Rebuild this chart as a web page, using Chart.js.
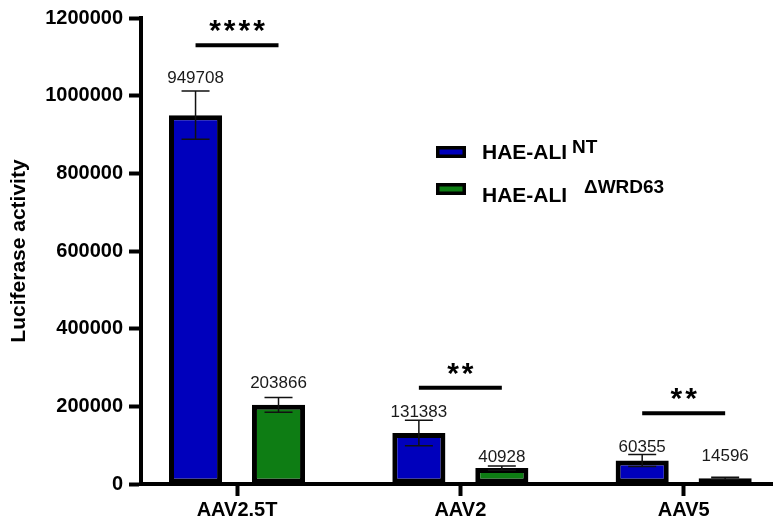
<!DOCTYPE html>
<html>
<head>
<meta charset="utf-8">
<title>Luciferase activity</title>
<script src="https://cdn.jsdelivr.net/npm/chart.js@4.4.1/dist/chart.umd.min.js"></script>
<style>
  html, body { margin: 0; padding: 0; background: #ffffff; }
  #wrap { width: 773px; height: 528px; }
</style>
</head>
<body>
<div id="wrap"><canvas id="chart" width="773" height="528"></canvas></div>
<script>
// Vector groups on the x axis
const categories = ['AAV2.5T', 'AAV2', 'AAV5'];

// Series: mean luciferase activity and standard error per vector
const seriesNames = ['HAE-ALI', 'HAE-ALI'];
const seriesSuper = ['NT', 'ΔWRD63'];
const ntMeans  = [949708, 131383, 60355];
const ntErr    = [62000, 33000, 15500];
const wrdMeans = [203866, 40928, 14596];
const wrdErr   = [19000, 5500, 2500];

// Y axis tick values
const yTickValues = [0, 200000, 400000, 600000, 800000, 1000000, 1200000];

// Significance brackets: star label and the height (in activity units) of each bar
const sigStars  = ['****', '**', '**'];
const sigLevels = [1130000, 248000, 182000];

const BLUE = '#0000BC';
const GREEN = '#0E7D14';
const FONT = '"Liberation Sans", Arial, Helvetica, sans-serif';

const errors = [ntErr, wrdErr];
const means = [ntMeans, wrdMeans];

// Error bars, value labels and significance brackets
const annotations = {
  id: 'annotations',
  afterDatasetsDraw(chart, args, opts) {
    const ctx = chart.ctx;
    const y = chart.scales.y;
    ctx.save();
    chart.data.datasets.forEach((ds, di) => {
      const meta = chart.getDatasetMeta(di);
      meta.data.forEach((bar, i) => {
        const m = means[di][i], e = errors[di][i];
        const yt = y.getPixelForValue(m + e);
        const yb = y.getPixelForValue(m - e);
        const cx = bar.x;
        ctx.strokeStyle = '#111';
        ctx.lineWidth = 1.5;
        ctx.beginPath();
        ctx.moveTo(cx, yt); ctx.lineTo(cx, yb);
        ctx.moveTo(cx - 14, yt); ctx.lineTo(cx + 14, yt);
        ctx.moveTo(cx - 14, yb); ctx.lineTo(cx + 14, yb);
        ctx.stroke();
        // value label
        ctx.fillStyle = '#1a1a1a';
        ctx.font = '17px ' + FONT;
        ctx.textAlign = 'center';
        ctx.textBaseline = 'alphabetic';
        const gap = opts.labelGap[di][i];
        ctx.fillText(String(m), cx, yt - gap);
      });
    });
    // significance brackets
    const m0 = chart.getDatasetMeta(0), m1 = chart.getDatasetMeta(1);
    categories.forEach((c, i) => {
      const x0 = m0.data[i].x, x1 = m1.data[i].x;
      const ly = y.getPixelForValue(sigLevels[i]);
      ctx.strokeStyle = '#000';
      ctx.lineWidth = 4;
      ctx.beginPath();
      ctx.moveTo(x0, ly); ctx.lineTo(x1, ly);
      ctx.stroke();
      ctx.fillStyle = '#000';
      ctx.font = 'bold 30px ' + FONT;
      ctx.letterSpacing = '3px';
      ctx.textAlign = 'center';
      ctx.textBaseline = 'alphabetic';
      const mt = ctx.measureText(sigStars[i]);
      const centerY = ly - 19;
      const base = centerY + (mt.actualBoundingBoxAscent - mt.actualBoundingBoxDescent) / 2;
      ctx.fillText(sigStars[i], (x0 + x1) / 2 + 1.5, base);
      ctx.letterSpacing = '0px';
    });
    ctx.restore();
  }
};

// Legend with superscripted group names
const superLegend = {
  id: 'superLegend',
  afterDraw(chart, args, opts) {
    const ctx = chart.ctx;
    ctx.save();
    opts.rows.forEach((r, i) => {
      const ds = chart.data.datasets[i];
      ctx.fillStyle = '#000';
      ctx.fillRect(r.boxX, r.boxY, 30, 12);
      ctx.fillStyle = ds.backgroundColor;
      ctx.fillRect(r.boxX + 3.5, r.boxY + 3.5, 23, 5);
      ctx.fillStyle = '#000';
      ctx.textAlign = 'left';
      ctx.textBaseline = 'alphabetic';
      ctx.font = 'bold 21px ' + FONT;
      ctx.fillText(seriesNames[i], r.textX, r.baseY);
      ctx.font = 'bold 19px ' + FONT;
      ctx.fillText(seriesSuper[i], r.supX, r.supY);
    });
    ctx.restore();
  }
};

new Chart(document.getElementById('chart'), {
  type: 'bar',
  data: {
    datasets: [
      {
        label: seriesNames[0] + ' ' + seriesSuper[0],
        data: ntMeans.map((v, i) => ({ x: i, y: v })),
        backgroundColor: BLUE,
        borderColor: '#000',
        borderWidth: 5,
        borderSkipped: false
      },
      {
        label: seriesNames[1] + ' ' + seriesSuper[1],
        data: wrdMeans.map((v, i) => ({ x: i, y: v })),
        backgroundColor: GREEN,
        borderColor: '#000',
        borderWidth: 5,
        borderSkipped: false
      }
    ]
  },
  options: {
    responsive: false,
    devicePixelRatio: 1,
    animation: false,
    categoryPercentage: 0.743,
    barPercentage: 0.64,
    layout: { padding: { left: 0, right: 0, top: 16, bottom: 0 } },
    plugins: {
      legend: { display: false },
      tooltip: { enabled: false },
      annotations: {
        labelGap: [[8, 3, 3], [9, 4, 16]]
      },
      superLegend: {
        rows: [
          { boxX: 436, boxY: 146, textX: 482, baseY: 159, supX: 572, supY: 153 },
          { boxX: 436, boxY: 183, textX: 482, baseY: 202, supX: 584, supY: 193 }
        ]
      }
    },
    scales: {
      x: {
        type: 'linear',
        min: -0.43,
        max: 2.40,
        offset: false,
        border: { display: true, color: '#000', width: 4 },
        grid: { display: true, offset: false, drawOnChartArea: false, drawTicks: true, tickLength: 12, tickWidth: 4, tickColor: '#000' },
        afterBuildTicks(scale) { scale.ticks = categories.map((c, i) => ({ value: i })); },
        afterFit(scale) { scale.height = 44; },
        ticks: {
          autoSkip: false,
          maxRotation: 0,
          padding: 2,
          color: '#000',
          font: { family: FONT, size: 20, weight: 'bold' },
          callback: (v) => categories[v]
        }
      },
      y: {
        min: 0,
        max: 1200000,
        border: { display: true, color: '#000', width: 4 },
        grid: { display: true, drawOnChartArea: false, drawTicks: true, tickLength: 12, tickWidth: 4, tickColor: '#000' },
        afterBuildTicks(scale) { scale.ticks = yTickValues.map(v => ({ value: v })); },
        afterFit(scale) { scale.width = 141; },
        ticks: {
          padding: 6,
          color: '#000',
          font: { family: FONT, size: 20, weight: 'bold' },
          callback: (v) => String(v)
        },
        title: {
          display: true,
          text: 'Luciferase activity',
          color: '#000',
          padding: { top: 7, bottom: 0 },
          font: { family: FONT, size: 21, weight: 'bold' }
        }
      }
    }
  },
  plugins: [annotations, superLegend]
});
</script>
</body>
</html>
